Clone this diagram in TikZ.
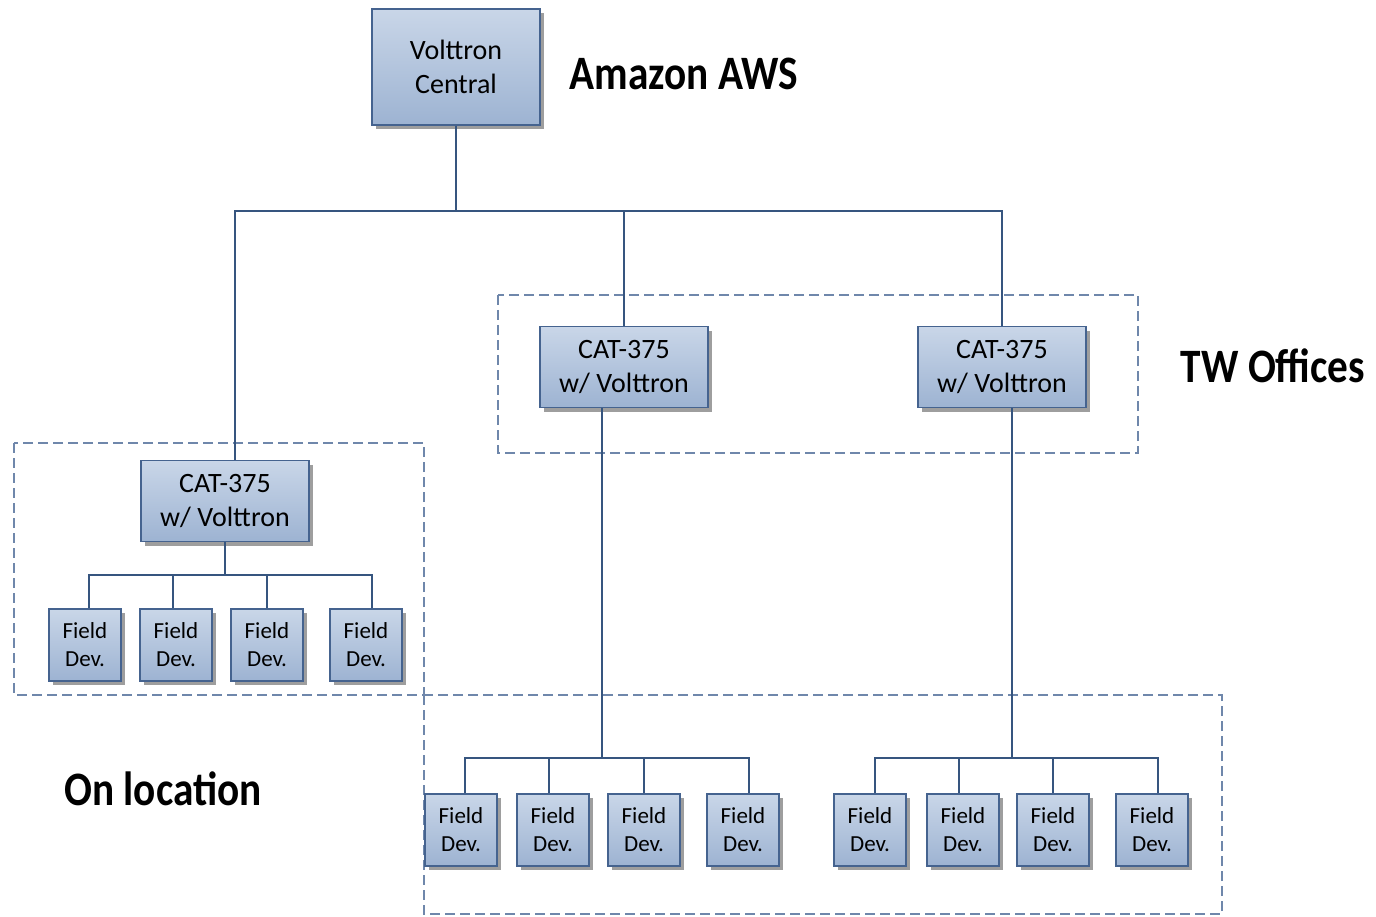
\documentclass[tikz,border=0pt]{standalone}
\usepackage{fontspec}
\setmainfont{Carlito}
\newfontfamily\tagfont[FakeStretch=0.86]{Carlito}
\usetikzlibrary{shadows}
\definecolor{boxtop}{HTML}{C9D6E8}
\definecolor{boxbot}{HTML}{9DB3D2}
\definecolor{boxline}{HTML}{45638F}
\definecolor{wire}{HTML}{36557F}
\definecolor{frame}{HTML}{6F87AB}
\begin{document}
\begin{tikzpicture}[x=1pt,y=-1pt,line width=1.1pt,draw=wire]
	\tikzstyle{box}=[draw=boxline,top color=boxtop,bottom color=boxbot,inner sep=0pt,align=center,text=black,
		drop shadow={shadow xshift=4pt,shadow yshift=-4pt,fill=black!38,opacity=1}]
	\tikzstyle{VC}=[box,minimum width=168pt,minimum height=116pt,font=\fontsize{28}{34}\selectfont] % VC = volttron central
	\tikzstyle{CAT}=[box,minimum width=168pt,minimum height=81pt,font=\fontsize{28}{34}\selectfont] % CAT = cat-375 unit
	\tikzstyle{FD}=[box,minimum width=72pt,minimum height=72pt,font=\fontsize{23}{28}\selectfont]   % FD = field device
	\tikzstyle{tag}=[font=\tagfont\bfseries\fontsize{48}{50}\selectfont,inner sep=0pt]
	\tikzstyle{frm}=[draw=frame,line width=1.2pt,dash pattern=on 10pt off 5pt]
	\useasboundingbox (0,0) rectangle (1376,917);
	% dashed frames
	\draw[frm] (498,295) rectangle (1138,453);
	\draw[frm] (14,443) rectangle (424,695);
	\draw[frm] (424,695) rectangle (1222,914);
	% top and middle level
	\node(vc)[VC] at (456,67) {Volttron\\Central};
	\node(cat1)[CAT] at (225,501) {CAT-375\\w/ Volttron};
	\node(cat2)[CAT] at (624,367) {CAT-375\\w/ Volttron};
	\node(cat3)[CAT] at (1002,367) {CAT-375\\w/ Volttron};
	% field devices
	\foreach \n/\x in {1/85,2/176,3/267,4/366}
		\node(fa\n)[FD] at (\x,645) {Field\\Dev.};
	\foreach \n/\x in {1/461,2/553,3/644,4/743}
		\node(fb\n)[FD] at (\x,830) {Field\\Dev.};
	\foreach \n/\x in {1/870,2/963,3/1053,4/1152}
		\node(fc\n)[FD] at (\x,830) {Field\\Dev.};
	% labels
	\node(aws)[tag] at (684,74) {Amazon AWS};
	\node(tw)[tag] at (1273,366) {TW Offices};
	\node(loc)[tag] at (163,789) {On location};
	% wiring from central
	\coordinate(hub) at (456,211);
	\draw(vc.south)--(hub);
	\draw(hub)-|([xshift=10pt]cat1.north);
	\draw(hub)-|(cat2.north);
	\draw(hub)-|(cat3.north);
	% wiring to field devices
	\coordinate(busa) at (225,575);
	\coordinate(busb) at (602,758);
	\coordinate(busc) at (1012,758);
	\draw(cat1.south)--(busa);
	\draw([xshift=-22pt]cat2.south)--(busb);
	\draw([xshift=10pt]cat3.south)--(busc);
	\foreach \n/\dx in {1/4,2/-3,3/0,4/6}
		\draw([xshift=\dx pt]fa\n.north)|-(busa);
	\foreach \n/\dx in {1/4,2/-4,3/0,4/6}
		\draw([xshift=\dx pt]fb\n.north)|-(busb);
	\foreach \n/\dx in {1/5,2/-4,3/0,4/6}
		\draw([xshift=\dx pt]fc\n.north)|-(busc);
\end{tikzpicture}
\end{document}
